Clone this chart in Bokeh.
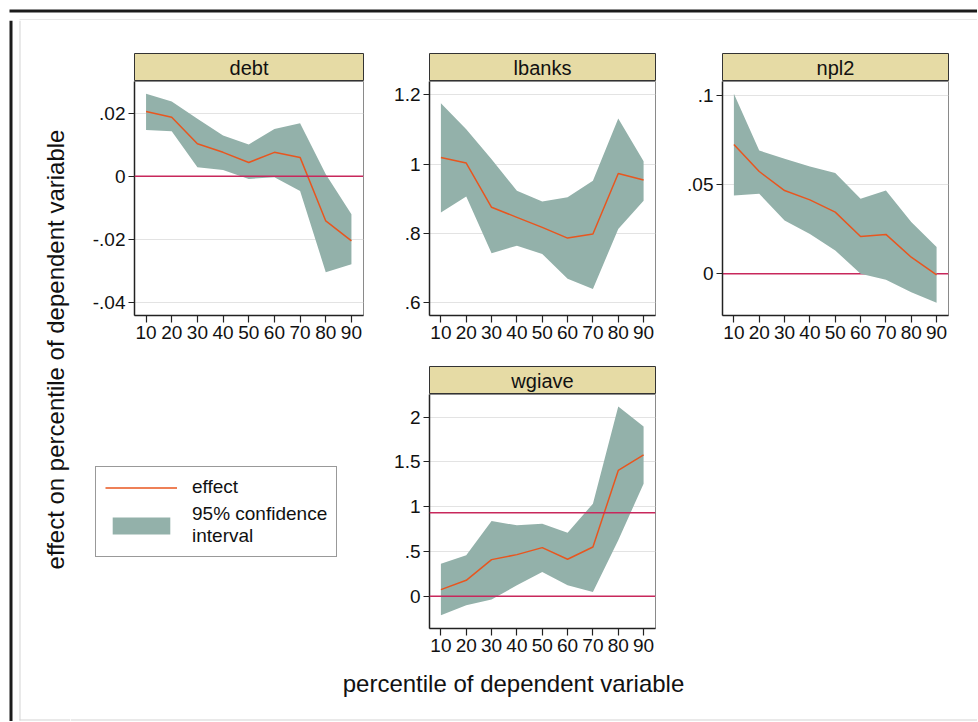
import math
from bokeh.plotting import figure
from bokeh.models import (Range1d, FixedTicker, Span, Label, Legend, LegendItem,
                          BoxAnnotation, ColumnDataSource)
from bokeh.layouts import column, row
from bokeh.embed import file_html
from bokeh.resources import INLINE

# ---------------- data ----------------
percentiles = [10, 20, 30, 40, 50, 60, 70, 80, 90]

debt_effect = [0.0205, 0.0187, 0.0103, 0.0076, 0.0044, 0.0076, 0.0060, -0.0141, -0.0204]
debt_upper = [0.0261, 0.0237, 0.0182, 0.0129, 0.0101, 0.0150, 0.0168, 0.0007, -0.0120]
debt_lower = [0.0147, 0.0143, 0.0029, 0.0020, -0.0008, -0.0003, -0.0046, -0.0303, -0.0278]

lbanks_effect = [1.019, 1.003, 0.875, 0.846, 0.817, 0.786, 0.798, 0.973, 0.954]
lbanks_upper = [1.176, 1.101, 1.014, 0.923, 0.892, 0.904, 0.952, 1.132, 1.008]
lbanks_lower = [0.860, 0.906, 0.742, 0.764, 0.740, 0.668, 0.639, 0.812, 0.894]

npl2_effect = [0.0725, 0.0574, 0.0467, 0.0415, 0.0346, 0.0209, 0.0221, 0.0093, -0.0006]
npl2_upper = [0.1010, 0.0692, 0.0645, 0.0602, 0.0565, 0.0421, 0.0467, 0.0290, 0.0150]
npl2_lower = [0.0439, 0.0449, 0.0299, 0.0224, 0.0131, 0.0000, -0.0034, -0.0103, -0.0163]

wgiave_effect = [0.074, 0.178, 0.409, 0.465, 0.543, 0.413, 0.550, 1.405, 1.580]
wgiave_upper = [0.364, 0.457, 0.840, 0.792, 0.810, 0.710, 1.033, 2.119, 1.896]
wgiave_lower = [-0.212, -0.100, -0.037, 0.123, 0.271, 0.123, 0.048, 0.625, 1.257]

debt_ticks = [-0.04, -0.02, 0, 0.02]
debt_tick_labels = ["-.04", "-.02", "0", ".02"]
lbanks_ticks = [0.6, 0.8, 1, 1.2]
lbanks_tick_labels = [".6", ".8", "1", "1.2"]
npl2_ticks = [0, 0.05, 0.1]
npl2_tick_labels = ["0", ".05", ".1"]
wgiave_ticks = [0, 0.5, 1, 1.5, 2]
wgiave_tick_labels = ["0", ".5", "1", "1.5", "2"]

debt_reflines = [0]
lbanks_reflines = []
npl2_reflines = [0]
wgiave_reflines = [0, 0.933]

debt_yrange = (-0.0440, 0.0300)
lbanks_yrange = (0.562, 1.239)
npl2_yrange = (-0.0234, 0.1079)
wgiave_yrange = (-0.360, 2.253)
x_range_all = (5.5, 94.7)

panel_titles = ["debt", "lbanks", "npl2", "wgiave"]
legend_labels = ["effect", "95% confidence\ninterval"]
y_title = "effect on percentile of dependent variable"
x_title = "percentile of dependent variable"

# ---------------- style ----------------
FONT = "Liberation Sans"
BAND = "#93b1aa"
LINE = "#e8561f"
REF = "#c8285c"
HDR = "#e6dba5"
GRID = "#e3e3e3"
AX = "#222222"
TXT = "#111111"
FRAME_DARK = "#1c1c1c"
FRAME_LIGHT = "#d4d4d4"
NAN = float("nan")


def blank(width, height, xr, yr):
    f = figure(width=width, height=height, x_range=Range1d(*xr), y_range=Range1d(*yr),
               x_axis_location=None, y_axis_location=None, toolbar_location=None,
               output_backend="svg", min_border=0, title=None)
    f.outline_line_color = None
    f.background_fill_color = "white"
    f.border_fill_color = "white"
    f.xgrid.visible = False
    f.ygrid.visible = False
    return f


def box(f, left, right, bottom, top, color):
    f.add_layout(BoxAnnotation(left=left, right=right, bottom=bottom, top=top,
                               fill_color=color, fill_alpha=1, line_color=None))


def make_panel(name, effect, upper, lower, yr, ticks, labels, refs, L, R, top_border, fw,
               ref_on_top=True):
    hdr = figure(frame_width=fw, frame_height=28, min_border_left=L, min_border_right=R,
                 min_border_top=top_border, min_border_bottom=0,
                 x_range=Range1d(0, 1), y_range=Range1d(0, 1),
                 x_axis_location=None, y_axis_location=None, toolbar_location=None,
                 output_backend="svg", title=None)
    hdr.xgrid.visible = False
    hdr.ygrid.visible = False
    hdr.background_fill_color = HDR
    hdr.border_fill_color = "white"
    hdr.outline_line_color = "#333333"
    hdr.outline_line_width = 1
    hdr.add_layout(Label(x=0.5, y=0.5, text=name, text_align="center", text_baseline="middle",
                         text_font=FONT, text_font_size="20px", text_color=TXT))

    p = figure(frame_width=fw, frame_height=234, min_border_left=L, min_border_right=R,
               min_border_top=0, min_border_bottom=34,
               x_range=Range1d(*x_range_all), y_range=Range1d(*yr),
               toolbar_location=None, output_backend="svg", title=None)
    p.background_fill_color = "white"
    p.border_fill_color = "white"
    p.outline_line_color = "#8a8a8a"
    src = ColumnDataSource(dict(x=percentiles, effect=effect, upper=upper, lower=lower))
    p.varea(x="x", y1="lower", y2="upper", source=src, fill_color=BAND, fill_alpha=1.0)
    for r in refs:
        p.add_layout(Span(location=r, dimension="width", line_color=REF, line_width=1.5,
                          level="annotation" if ref_on_top else "underlay"))
    p.line(x="x", y="effect", source=src, line_color=LINE, line_width=1.5)

    p.xaxis.ticker = FixedTicker(ticks=percentiles)
    p.yaxis.ticker = FixedTicker(ticks=ticks)
    p.yaxis.major_label_overrides = {t: l for t, l in zip(ticks, labels)}
    for ax in p.axis:
        ax.axis_line_color = AX
        ax.axis_line_width = 1.5
        ax.major_tick_line_color = AX
        ax.major_tick_line_width = 1.2
        ax.major_tick_in = 0
        ax.minor_tick_in = 0
        ax.minor_tick_out = 0
        ax.major_label_text_font = FONT
        ax.major_label_text_font_size = "19px"
        ax.major_label_text_color = TXT
    p.xaxis.major_tick_out = 7
    p.xaxis.major_label_standoff = 3
    p.yaxis.major_tick_out = 6
    p.yaxis.major_label_standoff = 3
    p.xgrid.visible = False
    p.ygrid.grid_line_color = GRID
    p.ygrid.grid_line_width = 1
    return column(hdr, p, spacing=0)


debt_col = make_panel(panel_titles[0], debt_effect, debt_upper, debt_lower, debt_yrange,
                      debt_ticks, debt_tick_labels, debt_reflines, 64, 16, 33, 229)
lbanks_col = make_panel(panel_titles[1], lbanks_effect, lbanks_upper, lbanks_lower, lbanks_yrange,
                        lbanks_ticks, lbanks_tick_labels, lbanks_reflines, 50, 17, 33, 226)
npl2_col = make_panel(panel_titles[2], npl2_effect, npl2_upper, npl2_lower, npl2_yrange,
                      npl2_ticks, npl2_tick_labels, npl2_reflines, 50, 29, 33, 226,
                      ref_on_top=False)
wgiave_col = make_panel(panel_titles[3], wgiave_effect, wgiave_upper, wgiave_lower, wgiave_yrange,
                        wgiave_ticks, wgiave_tick_labels, wgiave_reflines, 50, 17, 17, 226)

# legend panel
lg = blank(309, 313, (0, 1), (0, 1))
r_line = lg.line(x=[NAN, NAN], y=[NAN, NAN], line_color=LINE, line_width=1.5)
r_band = lg.varea(x=[NAN, NAN], y1=[NAN, NAN], y2=[NAN, NAN], fill_color=BAND, fill_alpha=1.0)
legend = Legend(items=[LegendItem(label=legend_labels[0], renderers=[r_line]),
                       LegendItem(label=legend_labels[1], renderers=[r_band])],
                location=(25, 105), glyph_width=72, glyph_height=21, label_standoff=15,
                padding=9, spacing=5, margin=0, border_line_color="#333333",
                border_line_width=1, background_fill_color="white", background_fill_alpha=1,
                label_text_font=FONT, label_text_font_size="19px", label_text_color=TXT,
                label_text_line_height=1.0)
lg.add_layout(legend)

# x title + bottom frame line
xt = blank(907, 59, (0, 907), (0, 59))
xt.add_layout(Label(x=443, y=38, text=x_title, text_align="center", text_baseline="middle",
                    text_font=FONT, text_font_size="24px", text_color=TXT))
box(xt, 0, 907, 1, 2, FRAME_LIGHT)

# y title + left frame
yt = blank(70, 701, (0, 70), (0, 701))
box(yt, 9, 12, 0, 701, FRAME_DARK)
box(yt, 19, 20, 1, 701, FRAME_LIGHT)
box(yt, 19, 70, 1, 2, FRAME_LIGHT)
yt.add_layout(Label(x=55, y=372, text=y_title, angle=math.pi / 2, text_align="center",
                    text_baseline="middle", text_font=FONT, text_font_size="24px",
                    text_color=TXT))

# top frame strip
top = blank(977, 20, (0, 977), (0, 20))
box(top, 9, 977, 8, 11, FRAME_DARK)
box(top, 19, 977, 0, 1, FRAME_LIGHT)

row1 = row(debt_col, lbanks_col, npl2_col, spacing=0)
row2 = row(lg, wgiave_col, spacing=0)
right_col = column(row1, row2, xt, spacing=0)
body = row(yt, right_col, spacing=0)
layout = column(top, body, spacing=0)

open("out.html", "w").write(file_html(layout, INLINE))
